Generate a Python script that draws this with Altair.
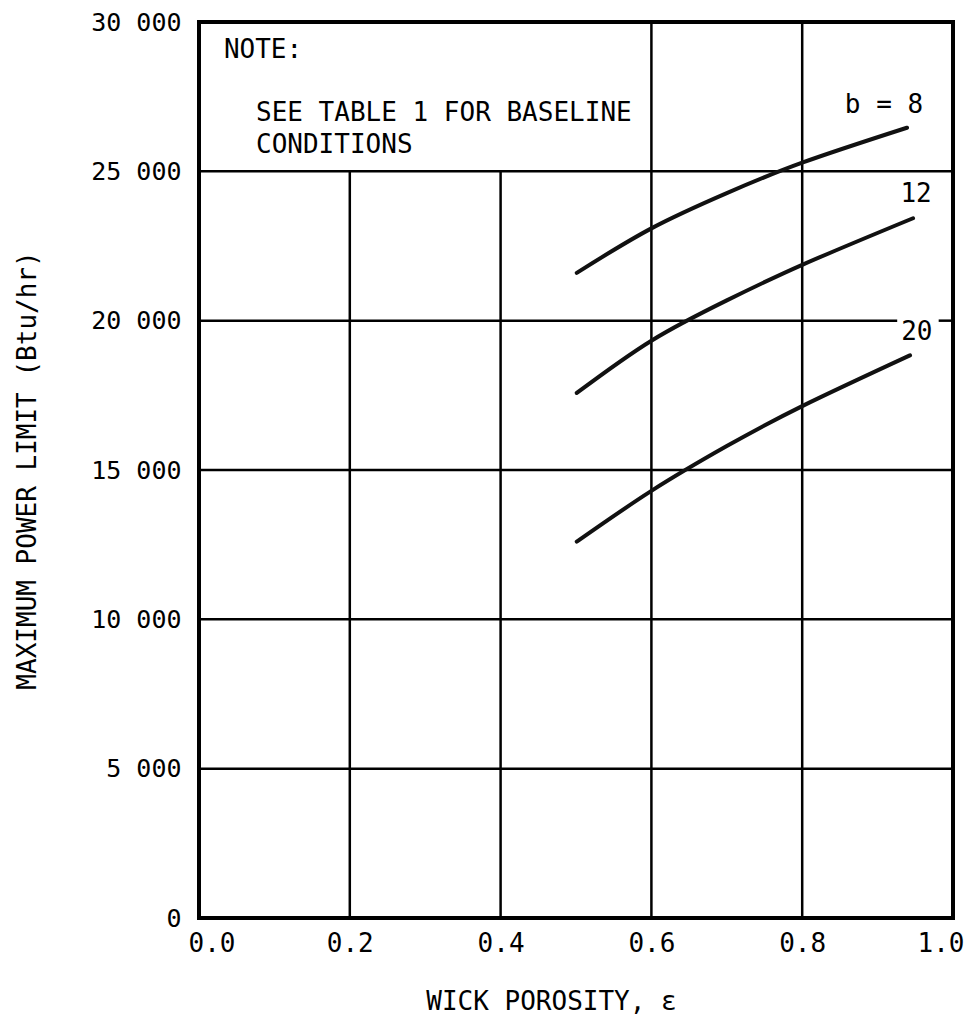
import altair as alt
import pandas as pd

# ---- data ----
eps_b8 = [0.501, 0.60, 0.70, 0.80, 0.939]
pow_b8 = [21600, 23090, 24270, 25290, 26460]

eps_b12 = [0.501, 0.60, 0.70, 0.80, 0.947]
pow_b12 = [17580, 19330, 20680, 21870, 23430]

eps_b20 = [0.501, 0.60, 0.70, 0.80, 0.943]
pow_b20 = [12600, 14300, 15800, 17140, 18840]

curve_labels = ["b = 8", "12", "20"]
label_x = [0.9085, 0.951, 0.952]
label_y = [27230, 24240, 19630]

note_lines = ["NOTE:", "SEE TABLE 1 FOR BASELINE", "CONDITIONS"]
note_x = [0.033, 0.0756, 0.0756]
note_y = [29065, 26940, 25870]

# grid (the note box hides part of it)
vgrid_x = [0.2, 0.4, 0.6, 0.8]
vgrid_top = [25000, 25000, 30000, 30000]
hgrid_y = [5000, 10000, 15000, 20000, 20000, 25000]
hgrid_x0 = [0.0, 0.0, 0.0, 0.0, 0.981, 0.0]
hgrid_x1 = [1.0, 1.0, 1.0, 0.926, 1.0, 1.0]

x_domain = [0.0, 1.0]
y_domain = [0, 30000]
y_ticks = [0, 5000, 10000, 15000, 20000, 25000, 30000]
x_ticks = [0.0, 0.2, 0.4, 0.6, 0.8, 1.0]

FONT = "DejaVu Sans Mono"
FS = 26

rows = []
for name, xs, ys in [("8", eps_b8, pow_b8), ("12", eps_b12, pow_b12), ("20", eps_b20, pow_b20)]:
    for x, y in zip(xs, ys):
        rows.append({"b": name, "eps": x, "P": y})
curves = pd.DataFrame(rows)

vgrid = pd.DataFrame({"x": vgrid_x, "y0": [0] * len(vgrid_x), "y1": vgrid_top})
hgrid = pd.DataFrame({"y": hgrid_y, "x0": hgrid_x0, "x1": hgrid_x1})
labels = pd.DataFrame({"t": curve_labels, "x": label_x, "y": label_y})
notes = pd.DataFrame({"t": note_lines, "x": note_x, "y": note_y})
frame = pd.DataFrame({"x0": [x_domain[0]], "x1": [x_domain[1]],
                      "y0": [y_domain[0]], "y1": [y_domain[1]]})

xscale = alt.Scale(domain=x_domain, nice=False, zero=False)
yscale = alt.Scale(domain=y_domain, nice=False)

x_axis = alt.Axis(
    values=x_ticks, format=".1f", grid=False, ticks=False, domain=False,
    labelFont=FONT, labelFontSize=FS, labelColor="black", labelPadding=12,
    labelFlush=True, labelFlushOffset=11,
    title="WICK POROSITY, ε", titleFont=FONT, titleFontSize=FS,
    titleFontWeight="normal", titleColor="black",
    titleX=352, titleY=83, titleBaseline="middle",
)
y_axis = alt.Axis(
    values=y_ticks, grid=False, ticks=False, domain=False,
    labelExpr="datum.value == 0 ? '0' : format(datum.value / 1000, 'd') + ' 000'",
    labelFont=FONT, labelFontSize=25, labelColor="black", labelPadding=18,
    labelBaseline="middle",
    title="MAXIMUM POWER LIMIT (Btu/hr)", titleFont=FONT, titleFontSize=FS,
    titleFontWeight="normal", titleColor="black",
    titleX=-172, titleY=448, titleBaseline="middle", titleAngle=-90,
)

vg = alt.Chart(vgrid).mark_rule(color="black", strokeWidth=2.5).encode(
    x=alt.X("x:Q", scale=xscale, axis=x_axis),
    y=alt.Y("y0:Q", scale=yscale, axis=y_axis),
    y2="y1:Q",
)
hg = alt.Chart(hgrid).mark_rule(color="black", strokeWidth=2.5).encode(
    x=alt.X("x0:Q", scale=xscale),
    x2="x1:Q",
    y=alt.Y("y:Q", scale=yscale),
)
box = alt.Chart(frame).mark_rect(
    fillOpacity=0, stroke="black", strokeWidth=4
).encode(
    x=alt.X("x0:Q", scale=xscale),
    x2="x1:Q",
    y=alt.Y("y0:Q", scale=yscale),
    y2="y1:Q",
)
lines = alt.Chart(curves).mark_line(
    color="#111111", strokeWidth=4, interpolate="natural", strokeCap="round"
).encode(
    x=alt.X("eps:Q", scale=xscale),
    y=alt.Y("P:Q", scale=yscale),
    detail="b:N",
)
lab = alt.Chart(labels).mark_text(
    font=FONT, fontSize=FS, color="black", align="center", baseline="middle"
).encode(
    x=alt.X("x:Q", scale=xscale),
    y=alt.Y("y:Q", scale=yscale),
    text="t:N",
)
note = alt.Chart(notes).mark_text(
    font=FONT, fontSize=FS, color="black", align="left", baseline="middle"
).encode(
    x=alt.X("x:Q", scale=xscale),
    y=alt.Y("y:Q", scale=yscale),
    text="t:N",
)

chart = (
    alt.layer(vg, hg, box, lines, lab, note)
    .properties(
        width=754,
        height=896,
        autosize=alt.AutoSizeParams(type="none"),
        padding={"left": 191, "top": 14, "right": 12, "bottom": 100},
    )
    .configure_view(strokeWidth=0)
    .configure(background="white")
)

chart.save("out.html", embed_options={"renderer": "svg", "actions": False})
